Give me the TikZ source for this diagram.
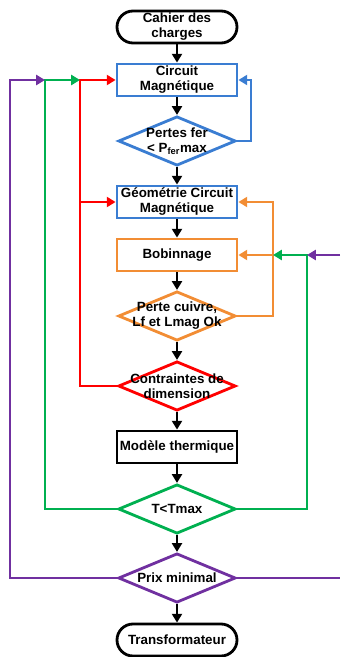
\documentclass[tikz,border=0pt]{standalone}
\usepackage{fontspec}
\setmainfont{Liberation Sans}
\usetikzlibrary{shapes.geometric,arrows.meta}

\definecolor{cBleu}{RGB}{58,125,210}
\definecolor{cOrange}{RGB}{242,141,52}
\definecolor{cVert}{RGB}{0,176,80}
\definecolor{cRouge}{RGB}{255,0,0}
\definecolor{cViolet}{RGB}{112,48,160}

% one line of text that does not widen a diamond
\newcommand{\ligne}[1]{\makebox[0pt]{#1}}

\tikzset{
  txt/.style={font=\fontsize{11.4}{12.8}\selectfont\bfseries, align=center, inner sep=1pt},
  terminal/.style={txt, draw, line width=2.4pt, rectangle, rounded corners=0.48cm,
    minimum width=3.6cm, minimum height=0.96cm},
  boite/.style={txt, draw, line width=2.4pt, rectangle,
    minimum width=3.6cm, minimum height=0.96cm},
  test/.style={txt, draw, line width=2.4pt, diamond, inner sep=0pt,
    minimum width=3.52cm, minimum height=1.48cm},
  flow/.style={line width=2.4pt, -{Triangle[length=7.5pt,width=8.5pt]}},
  trait/.style={line width=2.4pt}
}

\begin{document}
\begin{tikzpicture}[x=0.03cm, y=-0.03cm]
  \useasboundingbox (0,0) rectangle (340,657);
  % main column
  \node[terminal] (cdc) at (177,27) {Cahier des\\charges};
  \node[boite, cBleu, text=black] (circ) at (177,80) {Circuit\\Magnétique};
  \node[test, cBleu, text=black] (pfer) at (177,141) {\ligne{Pertes fer}\\\ligne{< P\textsubscript{fer}max}};
  \node[boite, cBleu, text=black] (geom) at (177,202) {Géométrie Circuit\\Magnétique};
  \node[boite, cOrange, text=black] (bob) at (177,255) {Bobinnage};
  \node[test, cOrange, text=black] (pcu) at (177,316) {\ligne{Perte cuivre,}\\\ligne{Lf et Lmag Ok}};
  \node[test, cRouge, text=black] (contr) at (177,386) {\ligne{Contraintes de}\\\ligne{dimension}};
  \node[boite] (therm) at (177,447) {Modèle thermique};
  \node[test, cVert, text=black] (temp) at (177,509) {\ligne{T<Tmax}};
  \node[test, cViolet, text=black] (prix) at (177,578) {\ligne{Prix minimal}};
  \node[terminal] (transfo) at (177,640) {Transformateur};

  % columns of the loops
  \coordinate (xp) at (10,0);
  \coordinate (xv) at (45,0);
  \coordinate (xr) at (80,0);
  \coordinate (xb) at (251,0);
  \coordinate (xo) at (273,0);
  \coordinate (xg) at (307,0);
  \coordinate (xe) at (340,0);

  % straight flow
  \draw[flow] (cdc) -- (circ);
  \draw[flow] (circ) -- (pfer);
  \draw[flow] (pfer) -- (geom);
  \draw[flow] (geom) -- (bob);
  \draw[flow] (bob) -- (pcu);
  \draw[flow] (pcu) -- (contr);
  \draw[flow] (contr) -- (therm);
  \draw[flow] (therm) -- (temp);
  \draw[flow] (temp) -- (prix);
  \draw[flow] (prix) -- (transfo);

  % loops
  \draw[flow, cBleu] (pfer.east) -| (circ.east -| xb) -- (circ.east);
  \draw[flow, cOrange] (pcu.east) -| (geom.east -| xo) -- (geom.east);
  \draw[flow, cOrange] (bob.east -| xo) -- (bob.east);
  \draw[flow, cRouge] (contr.west) -| (circ.west -| xr) -- (circ.west);
  \draw[flow, cRouge] (geom.west -| xr) -- (geom.west);
  \draw[flow, cVert] (temp.west) -| (circ.west -| xv) -- (circ.west -| xr);
  \draw[flow, cVert] (temp.east) -| (bob.east -| xg) -- (bob.east -| xo);
  \draw[flow, cViolet] (prix.west) -| (circ.west -| xp) -- (circ.west -| xv);
  \draw[trait, cViolet] (prix.east) -- (prix.east -| xe);
  \draw[flow, cViolet] (bob.east -| xe) -- (bob.east -| xg);
\end{tikzpicture}
\end{document}
